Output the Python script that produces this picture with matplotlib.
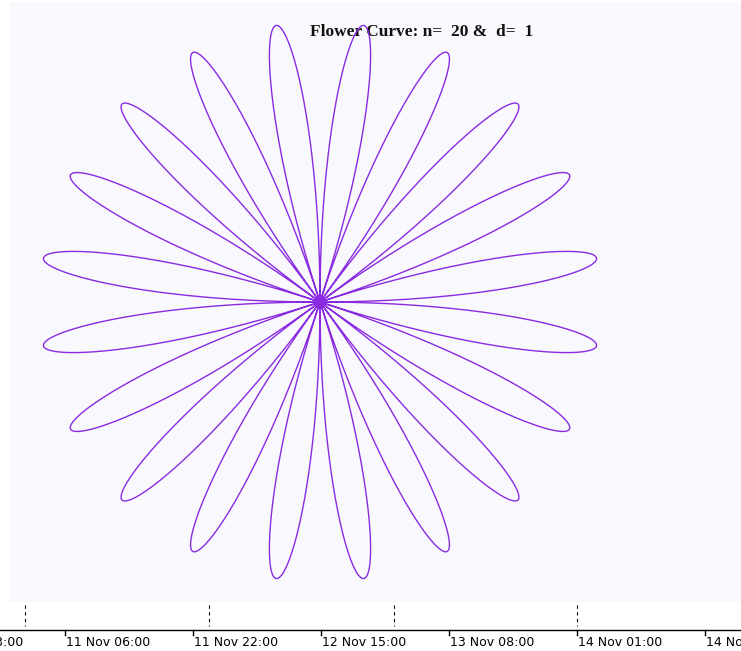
import numpy as np
import matplotlib
matplotlib.use("Agg")
import matplotlib.pyplot as plt

# curve parameters
n = 20
d = 1
title = "Flower Curve: n=  %d &  d=  %d" % (n, d)

# time axis labels along the bottom
time_labels = ["11 Nov 06:00", "11 Nov 22:00", "12 Nov 15:00",
               "13 Nov 08:00", "14 Nov 01:00", "14 Nov 18:00"]
first_label = "10 Nov 13:00"
grid_steps = [0, 1.44, 2.88, 4.31]   # dashed separators (in label spacing units)

W, H = 741, 651
fig = plt.figure(figsize=(W / 100, H / 100), dpi=100)
fig.patch.set_facecolor("white")

# main chart area (pixels: x 10..741, y 2..602), centre at (320, 302), radius 280
px = lambda x0, y0, w, h: [x0 / W, 1 - (y0 + h) / H, w / W, h / H]
ax = fig.add_axes(px(10, 2, 731, 600))
R = 280.0
ax.set_xlim((10 - 320) / R, (741 - 320) / R)
ax.set_ylim(-(602 - 302) / R, (302 - 2) / R)
ax.axis("off")
ax.add_patch(plt.Rectangle((0, 0), 1, 1, transform=ax.transAxes,
                           color="#f8f8fd", zorder=0))

theta = np.linspace(0, 2 * np.pi, 6000)
r = np.sin(n / (2.0 * d) * theta)
x = r * np.cos(theta)
y = r * np.sin(theta)
ax.plot(x, y, color="#8a2be2", lw=1.0, zorder=3, solid_joinstyle="round")

ax.text((310 - 320) / R, (302 - 32) / R, title, ha="left", va="center",
        fontsize=12.5, fontweight="bold", family="Liberation Serif",
        color="#111111", zorder=2)

# bottom time axis, in pixel units
bx = fig.add_axes([0, 0, 1, 1], facecolor="none")
bx.set_xlim(0, W)
bx.set_ylim(H, 0)
bx.axis("off")
bx.plot([0, W], [630, 630], color="black", lw=1)

spacing = 128
start = 65
for i, lab in enumerate(time_labels):
    xp = start + i * spacing
    bx.plot([xp, xp], [630, 635], color="black", lw=1)
    bx.text(xp + 1, 642, lab, ha="left", va="center", fontsize=9,
            family="DejaVu Sans", color="black")
bx.text(23, 642, first_label, ha="right", va="center", fontsize=9,
        family="DejaVu Sans", color="black")

for g in grid_steps:
    xp = 25 + g * spacing
    bx.plot([xp, xp], [605, 626], color="black", lw=0.8, ls=(0, (3, 3)))

fig.savefig("out.png", dpi=100)
